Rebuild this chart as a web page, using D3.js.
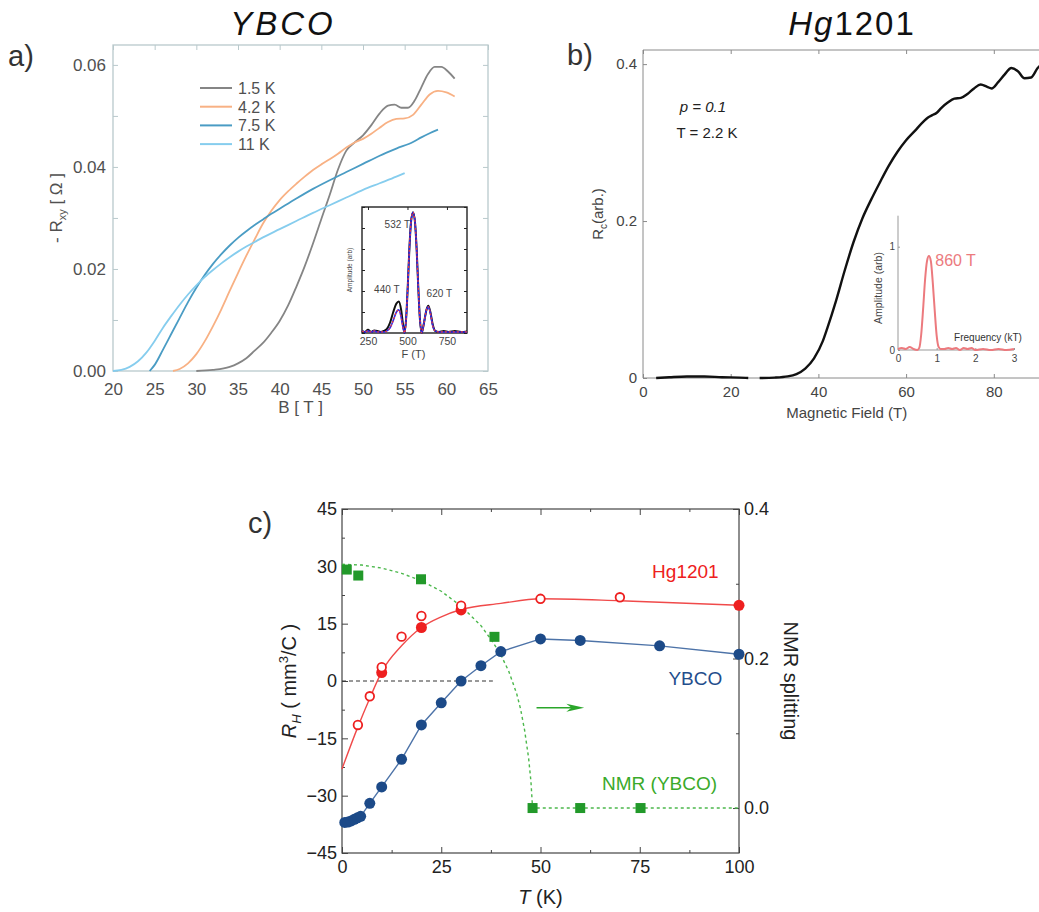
<!DOCTYPE html>
<html><head><meta charset="utf-8">
<script src="https://cdn.jsdelivr.net/npm/d3@7"></script>
<style>body{margin:0;background:#fff} svg{display:block} text{font-family:"Liberation Sans",Arial,sans-serif}</style>
</head><body><svg id="c" width="1039" height="912"></svg>
<script>
// ---------------- DATA ----------------
// Panel a: -Rxy vs B for YBCO
const aLabels = ["1.5 K","4.2 K","7.5 K","11 K"];
const aT15 = [[30,0],[32,0.0002],[34,0.0008],[35,0.0015],[36,0.0025],[37,0.004],[38,0.0055],[39,0.0075],[40,0.0098],[41,0.0128],[42,0.0165],[43,0.0205],[44,0.025],[45,0.0298],[46,0.0345],[47,0.0395],[48,0.0432],[49,0.0448],[50,0.0462],[51,0.0482],[52,0.0505],[53,0.052],[53.8,0.0522],[54.6,0.0516],[55.4,0.0516],[56.2,0.053],[57,0.0556],[57.8,0.0582],[58.6,0.0596],[59.4,0.0596],[60.2,0.0587],[61,0.0573]];
const aT42 = [[27.2,0],[28,0.0004],[29,0.0015],[30,0.0033],[31,0.0058],[32,0.0088],[33,0.0121],[34,0.0157],[35,0.0192],[36,0.0226],[37,0.0258],[38,0.0289],[39,0.0314],[40,0.0335],[41,0.0352],[42,0.0367],[43,0.0381],[44,0.0394],[45,0.0405],[46,0.0415],[47,0.0426],[48,0.0438],[49,0.0448],[50,0.0455],[51,0.0465],[52,0.0477],[53,0.0488],[54,0.0494],[55,0.0495],[56,0.0502],[57,0.0522],[58,0.0542],[59,0.0549],[60,0.0546],[61,0.0538]];
const aT75 = [[24.4,0],[25,0.0012],[26,0.0042],[27,0.0073],[28,0.0104],[29,0.0135],[30,0.0163],[31,0.0188],[32,0.021],[33,0.0229],[34,0.0246],[35,0.0261],[36,0.0274],[37,0.0286],[38,0.0297],[39,0.0308],[40,0.0318],[42,0.0338],[44,0.0357],[46,0.0374],[48,0.039],[50,0.0406],[52,0.0422],[54,0.0436],[56,0.0449],[57,0.0458],[58,0.0466],[59,0.0473]];
const aT11 = [[20,0],[21,0.0002],[22,0.0008],[23,0.0019],[24,0.0036],[25,0.0059],[26,0.0085],[27,0.0108],[28,0.013],[29,0.015],[30,0.0168],[31,0.0184],[32,0.0198],[33,0.0211],[34,0.0223],[35,0.0234],[36,0.0244],[37,0.0253],[38,0.0262],[40,0.0278],[42,0.0294],[44,0.031],[46,0.0325],[48,0.034],[50,0.0355],[52,0.0368],[54,0.0381],[55,0.0388]];
const aXTicks = [20,25,30,35,40,45,50,55,60,65];
const aYTicks = [0,0.01,0.02,0.03,0.04,0.05,0.06];
const aYLabeled = [0,0.02,0.04,0.06];
// Panel a inset: FFT amplitude
const insA_black = [[212,0.02],[230,0.01],[250,0.03],[270,0.01],[290,0.025],[310,0.02],[330,0.01],[350,0.02],[370,0.04],[390,0.1],[410,0.2],[430,0.28],[445,0.3],[460,0.22],[472,0.08],[482,0.0],[492,0.15],[502,0.45],[512,0.8],[522,1.05],[535,1.15],[548,1.05],[558,0.8],[568,0.45],[578,0.15],[590,0.0],[605,0.1],[620,0.22],[632,0.26],[645,0.2],[660,0.08],[675,0.02],[700,0.01],[730,0.02],[760,0.01],[800,0.02],[840,0.01],[877,0.015]];
const insA_blue = [[212,0.02],[230,0.01],[250,0.02],[270,0.01],[290,0.02],[310,0.01],[330,0.01],[350,0.01],[370,0.02],[390,0.05],[410,0.12],[430,0.2],[445,0.22],[460,0.15],[472,0.05],[482,0.0],[492,0.15],[502,0.45],[512,0.8],[522,1.05],[535,1.15],[548,1.05],[558,0.8],[568,0.45],[578,0.15],[590,0.0],[605,0.1],[620,0.22],[632,0.25],[645,0.19],[660,0.07],[675,0.02],[700,0.01],[730,0.01],[760,0.01],[800,0.01],[840,0.01],[877,0.01]];
const insAXTicks = [250,500,750];
const insAPeaks = [["532 T",535,1.15],["440 T",445,0.3],["620 T",632,0.26]];
// Panel b: Rc vs field for Hg1201
const bLow = [[3,0],[6,0.001],[10,0.002],[14,0.002],[18,0.001],[22,0.0005],[24,0]];
const bHigh = [[26.6,0],[30,0.0005],[33,0.002],[35,0.005],[37,0.012],[39,0.025],[41,0.047],[42,0.063],[44,0.098],[46,0.137],[48,0.173],[50,0.203],[52,0.227],[54,0.249],[56,0.27],[58,0.288],[60,0.303],[62,0.315],[64,0.327],[65,0.332],[66,0.335],[67,0.338],[68,0.344],[69.5,0.351],[71,0.356],[72.5,0.357],[74,0.362],[75.5,0.369],[77,0.374],[78.5,0.371],[79.5,0.369],[81,0.377],[82.5,0.387],[84,0.395],[85.5,0.391],[87,0.382],[88.5,0.383],[90,0.395],[91,0.4]];
const bXTicks = [0,20,40,60,80];
const bYTicks = [0,0.2,0.4];
const bInset = [[0,0.01],[0.1,0.02],[0.2,0.01],[0.3,0.03],[0.4,0.01],[0.5,0.0],[0.55,0.02],[0.6,0.15],[0.65,0.4],[0.7,0.68],[0.75,0.86],[0.8,0.91],[0.85,0.86],[0.9,0.65],[0.95,0.38],[1.0,0.14],[1.05,0.03],[1.1,0.01],[1.2,0.01],[1.3,0.02],[1.4,0.01],[1.5,0.02],[1.6,0.0],[1.7,0.02],[1.8,0.01],[1.9,0.02],[2.0,0.0],[2.2,0.01],[2.4,0.0],[2.6,0.01],[2.8,0.0],[3.0,0.01]];
const bInsetXTicks = [0,1,2,3];
const bInsetYTicks = [0,1];
// Panel c: Hall coefficient and NMR splitting
const ybcoPts = [[0.7,-37],[1.5,-36.9],[2.3,-36.6],[3.1,-36.2],[3.9,-35.8],[4.7,-35.4],[7,-32],[10,-27.7],[15,-20.5],[20,-11.5],[25,-5.7],[30,0],[35,4],[40,7.7],[50,11],[60,10.6],[80,9.2],[100,7]];
const hgFilled = [[10,2.2],[20,14],[30,18.6],[100,19.8]];
const hgOpen = [[4,-11.5],[7,-4],[10,3.6],[15,11.6],[20,17],[30,19.7],[50,21.5],[70,21.9]];
const hgFit = [[0,-23],[4,-12],[7,-4.5],[10,2.4],[15,9.2],[20,14],[25,16.8],[30,18.7],[40,20.3],[50,21.5],[70,21],[100,19.8]];
const nmrPts = [[1.2,0.319],[4.1,0.311],[19.9,0.306],[38.4,0.229],[48,0],[60,0],[75.2,0]];
const nmrFit = [[0,0.326],[5,0.325],[10,0.321],[15,0.314],[20,0.304],[25,0.29],[30,0.27],[35,0.244],[38,0.222],[40,0.205],[42,0.183],[44,0.153],[45,0.132],[46,0.104],[47,0.067],[47.6,0.035],[48,0],[100,0]];
const zeroLine = [[0,0],[38,0]];
const cXTicks = [0,25,50,75,100];
const cXMinor = [12.5,37.5,62.5,87.5];
const cYTicks = [-45,-30,-15,0,15,30,45];
const cYMinor = [-37.5,-22.5,-7.5,7.5,22.5,37.5];
const cRTicks = [0,0.2,0.4];
const cRMinor = [0.1,0.3];

// ---------------- DRAW ----------------
const svg = d3.select("#c");
svg.append("rect").attr("width",1039).attr("height",912).attr("fill","#fff");

function styleAxis(g, col, fs, fcol){
  g.select(".domain").remove();
  g.selectAll("line").attr("stroke",col);
  g.selectAll("text").attr("font-size",fs).attr("fill",fcol).attr("font-family","Liberation Sans, Arial, sans-serif");
  return g;
}

// ===== Panel a =====
const xA = d3.scaleLinear().domain([20,65]).range([113,488]);
const yA = d3.scaleLinear().domain([0,0.0639]).range([371,45]);
const gA = svg.append("g");
const frameA = "#b9c9cc";
gA.append("rect").attr("x",xA.range()[0]).attr("y",yA.range()[1]).attr("width",xA.range()[1]-xA.range()[0]).attr("height",yA.range()[0]-yA.range()[1]).attr("fill","none").attr("stroke",frameA).attr("stroke-width",1.3);
styleAxis(gA.append("g").attr("transform",`translate(0,${yA.range()[0]})`).call(d3.axisBottom(xA).tickValues(aXTicks).tickSize(0).tickPadding(12).tickFormat(d3.format("d"))),frameA,17,"#505050");
styleAxis(gA.append("g").attr("transform",`translate(0,${yA.range()[1]})`).call(d3.axisTop(xA).tickValues(aXTicks).tickSize(-5).tickFormat("")),frameA,17,"#505050");
styleAxis(gA.append("g").attr("transform",`translate(${xA.range()[0]},0)`).call(d3.axisLeft(yA).tickValues(aYTicks).tickSize(-5).tickPadding(7).tickFormat(d=>aYLabeled.some(v=>Math.abs(v-d)<1e-9)?d3.format(".2f")(d):"")),frameA,17,"#505050");
styleAxis(gA.append("g").attr("transform",`translate(${xA.range()[1]},0)`).call(d3.axisRight(yA).tickValues(aYTicks).tickSize(-5).tickFormat("")),frameA,17,"#505050");
const aSeries = [aT15,aT42,aT75,aT11];
const aColors = ["#858585","#f8b184","#4a9cc4","#86cdee"];
const lineA = d3.line().x(d=>xA(d[0])).y(d=>yA(d[1])).curve(d3.curveMonotoneX);
aSeries.forEach((s,i)=>{
  gA.append("path").attr("d",lineA(s)).attr("fill","none").attr("stroke",aColors[i]).attr("stroke-width",1.8);
});
// legend
aLabels.forEach((l,i)=>{
  const y = 88 + i*18.7;
  gA.append("line").attr("x1",200).attr("x2",232).attr("y1",y).attr("y2",y).attr("stroke",aColors[i]).attr("stroke-width",2);
  gA.append("text").attr("x",238).attr("y",y+6).attr("font-size",16).attr("fill","#505050").text(l);
});
// axis titles
gA.append("text").attr("x",(xA.range()[0]+xA.range()[1])/2).attr("y",413).attr("text-anchor","middle").attr("font-size",17).attr("fill","#505050").text("B [ T ]");
const tA = gA.append("text").attr("transform",`translate(62,${(yA.range()[0]+yA.range()[1])/2}) rotate(-90)`).attr("text-anchor","middle").attr("font-size",17).attr("fill","#505050");
tA.append("tspan").text("- R");
tA.append("tspan").attr("font-size",11).attr("dy",4).text("xy");
tA.append("tspan").attr("dy",-4).text(" [ Ω ]");

// inset a
const xIA = d3.scaleLinear().domain([212,877]).range([362,467]);
const yIA = d3.scaleLinear().domain([0,1.2]).range([333,207]);
gA.append("rect").attr("x",xIA.range()[0]).attr("y",yIA.range()[1]).attr("width",xIA.range()[1]-xIA.range()[0]).attr("height",yIA.range()[0]-yIA.range()[1]).attr("fill","#fff").attr("stroke","#222").attr("stroke-width",1.4);
styleAxis(gA.append("g").attr("transform",`translate(0,${yIA.range()[0]})`).call(d3.axisBottom(xIA).tickValues(insAXTicks).tickSize(0).tickPadding(5).tickFormat(d3.format("d"))),"#222",10.5,"#444");
styleAxis(gA.append("g").attr("transform",`translate(0,${yIA.range()[1]})`).call(d3.axisTop(xIA).tickValues(insAXTicks).tickSize(-3).tickFormat("")),"#222",10,"#444");
styleAxis(gA.append("g").attr("transform",`translate(${xIA.range()[0]},0)`).call(d3.axisLeft(yIA).ticks(6).tickSize(-3).tickFormat("")),"#222",10,"#444");
styleAxis(gA.append("g").attr("transform",`translate(${xIA.range()[1]},0)`).call(d3.axisRight(yIA).ticks(6).tickSize(-3).tickFormat("")),"#222",10,"#444");
const lineIA = d3.line().x(d=>xIA(d[0])).y(d=>yIA(d[1])).curve(d3.curveMonotoneX);
gA.append("path").attr("d",lineIA(insA_black)).attr("fill","none").attr("stroke","#111").attr("stroke-width",2);
gA.append("path").attr("d",lineIA(insA_blue)).attr("fill","none").attr("stroke","#2a2af0").attr("stroke-width",1.6);
gA.append("path").attr("d",lineIA(insA_blue)).attr("fill","none").attr("stroke","#f03a3a").attr("stroke-width",1.2).attr("stroke-dasharray","2,2");
gA.append("text").attr("x",xIA(insAPeaks[0][1])-3).attr("y",yIA(insAPeaks[0][2])+16).attr("text-anchor","end").attr("font-size",10).attr("fill","#444").text(insAPeaks[0][0]);
gA.append("text").attr("x",xIA(insAPeaks[1][1])-12).attr("y",yIA(insAPeaks[1][2])-9).attr("text-anchor","middle").attr("font-size",10).attr("fill","#444").text(insAPeaks[1][0]);
gA.append("text").attr("x",xIA(insAPeaks[2][1])+11).attr("y",yIA(insAPeaks[2][2])-9).attr("text-anchor","middle").attr("font-size",10).attr("fill","#444").text(insAPeaks[2][0]);
gA.append("text").attr("x",xIA(500)+6).attr("y",358).attr("text-anchor","middle").attr("font-size",11).attr("fill","#444").text("F (T)");
gA.append("text").attr("transform",`translate(352,${(yIA.range()[0]+yIA.range()[1])/2}) rotate(-90)`).attr("text-anchor","middle").attr("font-size",6.5).attr("fill","#444").text("Amplitude (arb)");

// ===== Panel b =====
const xB = d3.scaleLinear().domain([0,100]).range([643,1081.5]);
const yB = d3.scaleLinear().domain([0,0.418]).range([378,50]);
const gB = svg.append("g");
const frameB = "#8a8a8a";
gB.append("line").attr("x1",xB.range()[0]).attr("x2",xB.range()[1]).attr("y1",yB.range()[0]).attr("y2",yB.range()[0]).attr("stroke",frameB);
gB.append("line").attr("x1",xB.range()[0]).attr("x2",xB.range()[1]).attr("y1",yB.range()[1]).attr("y2",yB.range()[1]).attr("stroke",frameB);
gB.append("line").attr("x1",xB.range()[0]).attr("x2",xB.range()[0]).attr("y1",yB.range()[0]).attr("y2",yB.range()[1]).attr("stroke",frameB);
styleAxis(gB.append("g").attr("transform",`translate(0,${yB.range()[0]})`).call(d3.axisBottom(xB).tickValues(bXTicks).tickSize(-4).tickPadding(8).tickFormat(d3.format("d"))),frameB,15,"#444");
styleAxis(gB.append("g").attr("transform",`translate(0,${yB.range()[1]})`).call(d3.axisTop(xB).tickValues(bXTicks).tickSize(-4).tickFormat("")),frameB,15,"#444");
styleAxis(gB.append("g").attr("transform",`translate(${xB.range()[0]},0)`).call(d3.axisLeft(yB).tickValues(bYTicks).tickSize(-4).tickPadding(6).tickFormat(d=>d===0?"0":d3.format(".1f")(d))),frameB,15,"#444");
const lineB = d3.line().x(d=>xB(d[0])).y(d=>yB(d[1])).curve(d3.curveMonotoneX);
gB.append("path").attr("d",lineB(bLow)).attr("fill","none").attr("stroke","#111").attr("stroke-width",2.4);
gB.append("path").attr("d",lineB(bHigh)).attr("fill","none").attr("stroke","#111").attr("stroke-width",2.4);
gB.append("text").attr("x",703).attr("y",112).attr("text-anchor","middle").attr("font-size",15).attr("font-style","italic").attr("fill","#222").text("p = 0.1");
gB.append("text").attr("x",707).attr("y",138).attr("text-anchor","middle").attr("font-size",15).attr("fill","#222").text("T = 2.2 K");
gB.append("text").attr("x",(xB(0)+xB(92))/2+2).attr("y",418).attr("text-anchor","middle").attr("font-size",15).attr("fill","#444").text("Magnetic Field (T)");
const tB = gB.append("text").attr("transform",`translate(603,${(yB.range()[0]+yB.range()[1])/2}) rotate(-90)`).attr("text-anchor","middle").attr("font-size",15).attr("fill","#444");
tB.append("tspan").text("R");
tB.append("tspan").attr("font-size",10).attr("dy",4).text("c");
tB.append("tspan").attr("dy",-4).text("(arb.)");
// inset b
const xIB = d3.scaleLinear().domain([0,3]).range([898,1014]);
const yIB = d3.scaleLinear().domain([0,1.3]).range([350,215.7]);
gB.append("line").attr("x1",xIB.range()[0]).attr("x2",xIB.range()[1]).attr("y1",yIB(0)).attr("y2",yIB(0)).attr("stroke","#999");
gB.append("line").attr("x1",xIB.range()[0]).attr("x2",xIB.range()[0]).attr("y1",yIB(0)).attr("y2",yIB(1.3)).attr("stroke","#999");
styleAxis(gB.append("g").attr("transform",`translate(0,${yIB(0)})`).call(d3.axisBottom(xIB).tickValues(bInsetXTicks).tickSize(-2).tickPadding(5).tickFormat(d3.format("d"))),"#999",10,"#444");
styleAxis(gB.append("g").attr("transform",`translate(${xIB.range()[0]},0)`).call(d3.axisLeft(yIB).tickValues(bInsetYTicks).tickSize(-2).tickPadding(3).tickFormat(d3.format("d"))),"#999",10,"#444");
const lineIB = d3.line().x(d=>xIB(d[0])).y(d=>yIB(d[1])).curve(d3.curveMonotoneX);
gB.append("path").attr("d",lineIB(bInset)).attr("fill","none").attr("stroke","#ec7a7e").attr("stroke-width",2);
gB.append("text").attr("x",xIB(0.86)+4).attr("y",yIB(0.91)+10).attr("font-size",16).attr("fill","#ec7a7e").text("860 T");
gB.append("text").attr("x",988).attr("y",341).attr("text-anchor","middle").attr("font-size",10).attr("fill","#333").text("Frequency (kT)");
gB.append("text").attr("transform",`translate(882,288) rotate(-90)`).attr("text-anchor","middle").attr("font-size",10.5).attr("fill","#444").text("Amplitude (arb)");

// ===== Panel c =====
const xC = d3.scaleLinear().domain([0,100]).range([342,739]);
const yC = d3.scaleLinear().domain([-45,45]).range([853,509]);
const yR = d3.scaleLinear().domain([-0.06,0.4]).range([852.9,509]);
const gC = svg.append("g");
const frameC = "#444";
gC.append("rect").attr("x",xC.range()[0]).attr("y",yC.range()[1]).attr("width",xC.range()[1]-xC.range()[0]).attr("height",yC.range()[0]-yC.range()[1]).attr("fill","none").attr("stroke",frameC).attr("stroke-width",1.2);
styleAxis(gC.append("g").attr("transform",`translate(0,${yC.range()[0]})`).call(d3.axisBottom(xC).tickValues(cXTicks).tickSize(-6).tickPadding(7).tickFormat(d3.format("d"))),frameC,18,"#222");
styleAxis(gC.append("g").attr("transform",`translate(0,${yC.range()[0]})`).call(d3.axisBottom(xC).tickValues(cXMinor).tickSize(-3).tickFormat("")),frameC,18,"#222");
styleAxis(gC.append("g").attr("transform",`translate(0,${yC.range()[1]})`).call(d3.axisTop(xC).tickValues(cXTicks).tickSize(-6).tickFormat("")),frameC,18,"#222");
styleAxis(gC.append("g").attr("transform",`translate(0,${yC.range()[1]})`).call(d3.axisTop(xC).tickValues(cXMinor).tickSize(-3).tickFormat("")),frameC,18,"#222");
styleAxis(gC.append("g").attr("transform",`translate(${xC.range()[0]},0)`).call(d3.axisLeft(yC).tickValues(cYTicks).tickSize(-6).tickPadding(5).tickFormat(d3.format("d"))),frameC,18,"#222");
styleAxis(gC.append("g").attr("transform",`translate(${xC.range()[0]},0)`).call(d3.axisLeft(yC).tickValues(cYMinor).tickSize(-3).tickFormat("")),frameC,18,"#222");
styleAxis(gC.append("g").attr("transform",`translate(${xC.range()[1]},0)`).call(d3.axisRight(yR).tickValues(cRTicks).tickSize(-6).tickPadding(5).tickFormat(d3.format(".1f"))),frameC,18,"#222");
styleAxis(gC.append("g").attr("transform",`translate(${xC.range()[1]},0)`).call(d3.axisRight(yR).tickValues(cRMinor).tickSize(-3).tickFormat("")),frameC,18,"#222");

const lineC = d3.line().x(d=>xC(d[0])).y(d=>yC(d[1]));
const lineR = d3.line().x(d=>xC(d[0])).y(d=>yR(d[1]));
gC.append("path").attr("d",lineC(zeroLine)).attr("fill","none").attr("stroke","#333").attr("stroke-width",1).attr("stroke-dasharray","4,3");
gC.append("path").attr("d",lineR.curve(d3.curveLinear)(nmrFit)).attr("fill","none").attr("stroke","#4cb84c").attr("stroke-width",1.4).attr("stroke-dasharray","3,3");
gC.append("path").attr("d",lineC.curve(d3.curveMonotoneX)(hgFit)).attr("fill","none").attr("stroke","#f04a4a").attr("stroke-width",1.4);
gC.append("path").attr("d",lineC.curve(d3.curveLinear)(ybcoPts)).attr("fill","none").attr("stroke","#4d73a8").attr("stroke-width",1.4);
gC.selectAll(".nmr").data(nmrPts).join("rect").attr("x",d=>xC(d[0])-5).attr("y",d=>yR(d[1])-5).attr("width",10).attr("height",10).attr("fill","#22992a");
gC.selectAll(".yb").data(ybcoPts).join("circle").attr("cx",d=>xC(d[0])).attr("cy",d=>yC(d[1])).attr("r",5.5).attr("fill","#1c4a88");
gC.selectAll(".hgf").data(hgFilled).join("circle").attr("cx",d=>xC(d[0])).attr("cy",d=>yC(d[1])).attr("r",5.5).attr("fill","#ee1f1f");
gC.selectAll(".hgo").data(hgOpen).join("circle").attr("cx",d=>xC(d[0])).attr("cy",d=>yC(d[1])).attr("r",4.3).attr("fill","#fff").attr("stroke","#ee1f1f").attr("stroke-width",1.8);
const ay = yR(0.134);
gC.append("line").attr("x1",xC(49)).attr("x2",xC(59.5)).attr("y1",ay).attr("y2",ay).attr("stroke","#2aa62a").attr("stroke-width",1.5);
gC.append("path").attr("d",`M${xC(61)},${ay} L${xC(56.5)},${ay-4} L${xC(57.8)},${ay} L${xC(56.5)},${ay+4} Z`).attr("fill","#2aa62a");
gC.append("text").attr("x",xC(86.5)).attr("y",yC(27)).attr("text-anchor","middle").attr("font-size",19).attr("fill","#ee2020").text("Hg1201");
gC.append("text").attr("x",xC(89)).attr("y",yC(-1)).attr("text-anchor","middle").attr("font-size",19).attr("fill","#1f4e8c").text("YBCO");
gC.append("text").attr("x",xC(80)).attr("y",yC(-28.5)).attr("text-anchor","middle").attr("font-size",19).attr("fill","#3aaa2a").text("NMR (YBCO)");
const tx = gC.append("text").attr("x",(xC.range()[0]+xC.range()[1])/2).attr("y",904).attr("text-anchor","middle").attr("font-size",20).attr("fill","#222");
tx.append("tspan").attr("font-style","italic").text("T");
tx.append("tspan").text(" (K)");
const ty = gC.append("text").attr("transform",`translate(296,${yC(0)}) rotate(-90)`).attr("text-anchor","middle").attr("font-size",20).attr("fill","#222");
ty.append("tspan").attr("font-style","italic").text("R");
ty.append("tspan").attr("font-style","italic").attr("font-size",13).attr("dy",5).text("H");
ty.append("tspan").attr("dy",-5).text(" ( mm");
ty.append("tspan").attr("font-size",13).attr("dy",-8).text("3");
ty.append("tspan").attr("dy",8).text("/C )");
gC.append("text").attr("transform",`translate(784,${yC(0)}) rotate(90)`).attr("text-anchor","middle").attr("font-size",20).attr("fill","#222").text("NMR splitting");

// ===== Titles & panel letters =====
svg.append("text").attr("x",283).attr("y",35).attr("text-anchor","middle").attr("font-family","Liberation Serif, serif").attr("font-style","italic").attr("font-size",33).attr("letter-spacing",3).attr("fill","#111").text("YBCO");
const hgT = svg.append("text").attr("x",852).attr("y",35).attr("text-anchor","middle").attr("font-family","Liberation Serif, serif").attr("font-size",33).attr("letter-spacing",2).attr("fill","#111");
hgT.append("tspan").attr("font-style","italic").text("Hg");
hgT.append("tspan").text("1201");
[["a)",8,66],["b)",567,65],["c)",248,533]].forEach(p=>{
  svg.append("text").attr("x",p[1]).attr("y",p[2]).attr("font-family","Open Sans, sans-serif").attr("font-weight",300).attr("font-size",29).attr("fill","#333").text(p[0]);
});
</script></body></html>
